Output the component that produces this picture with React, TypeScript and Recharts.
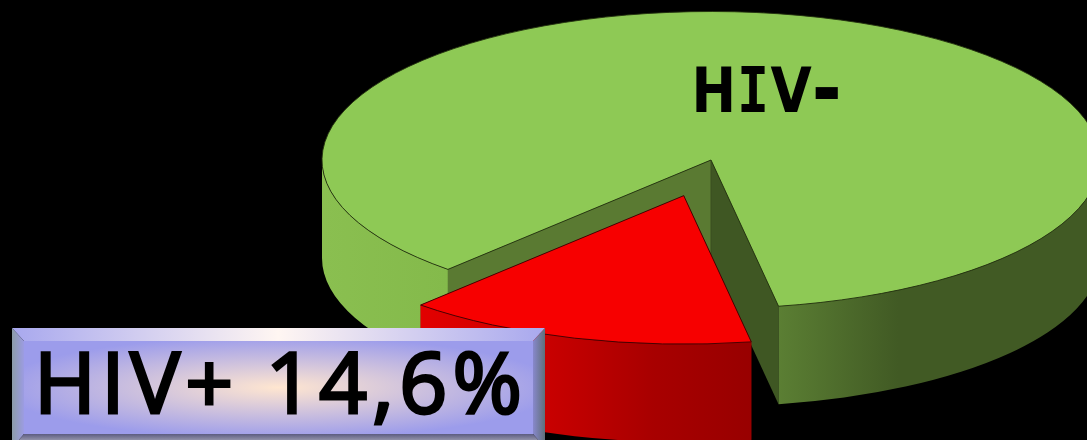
import { PieChart, Pie } from "recharts";

const categories = ["HIV-", "HIV+"];
const shares = [85.4, 14.6];
const topColors = ["#8ec955", "#f70000"];
const cutColors = [
  ["#3f5723", "#5a7a32"],
  ["#8a0000", "#8a0000"],
];
const pieData = categories.map((name, i) => ({ name, value: shares[i] }));

const WIDTH = 1087;
const HEIGHT = 440;
const TILT = 148.5 / 389; // vertical squash of the disc
const DEPTH = 98;
const EXPLODE = 0.25;

function point(cx: number, cy: number, r: number, deg: number) {
  const a = (deg * Math.PI) / 180;
  return { x: cx + r * Math.cos(a), y: cy - r * TILT * Math.sin(a) };
}

function arcPath(cx: number, cy: number, r: number, from: number, to: number, dy = 0, move = true) {
  const p0 = point(cx, cy, r, from);
  const p1 = point(cx, cy, r, to);
  const large = Math.abs(to - from) > 180 ? 1 : 0;
  const sweep = to > from ? 0 : 1;
  return `${move ? "M" : "L"}${p0.x},${p0.y + dy}A${r},${r * TILT} 0 ${large} ${sweep} ${p1.x},${p1.y + dy}`;
}

// the part of the rim that faces the viewer: sin(angle) < 0
function frontArcs(start: number, end: number) {
  const arcs: [number, number][] = [];
  for (let k = 0; k < 3; k++) {
    const lo = Math.max(start, 180 + k * 360);
    const hi = Math.min(end, 360 + k * 360);
    if (hi > lo) arcs.push([lo, hi]);
  }
  return arcs;
}

function Slice3D(props: any) {
  const { cx, cy, outerRadius: r, startAngle, endAngle, midAngle, index } = props;
  const from = Math.min(startAngle, endAngle);
  const to = Math.max(startAngle, endAngle);
  const exploded = index === 1;
  const off = exploded ? point(0, 0, r * EXPLODE, midAngle) : { x: 0, y: 0 };
  const x = cx + off.x;
  const y = cy + off.y;
  const a = point(x, y, r, from);
  const b = point(x, y, r, to);
  const top = `M${x},${y}L${a.x},${a.y}${arcPath(x, y, r, from, to, 0, false)}Z`;
  const edge = index === 0 ? "#22300f" : "#3a0000";
  return (
    <g>
      <path d={`M${x},${y}L${a.x},${a.y}L${a.x},${a.y + DEPTH}L${x},${y + DEPTH}Z`} fill={cutColors[index][0]} />
      <path d={`M${x},${y}L${b.x},${b.y}L${b.x},${b.y + DEPTH}L${x},${y + DEPTH}Z`} fill={cutColors[index][1]} />
      <line x1={x} y1={y} x2={x} y2={y + DEPTH} stroke="#3a4f20" strokeWidth={1} />
      {frontArcs(from, to).map(([lo, hi]) => {
        const pl = point(x, y, r, lo);
        return (
          <path
            key={lo}
            d={`${arcPath(x, y, r, lo, hi)}L${point(x, y, r, hi).x},${point(x, y, r, hi).y + DEPTH}${arcPath(x, y, r, hi, lo, DEPTH, false)}L${pl.x},${pl.y}Z`}
            fill={`url(#wall${index})`}
          />
        );
      })}
      <path d={top} fill={topColors[index]} stroke={edge} strokeWidth={0.9} />
    </g>
  );
}

function SliceLabel(props: any) {
  if (props.index === 0) {
    // wide bold face with a slab I, built up glyph by glyph
    return (
      <text
        transform="translate(0,112) scale(0.86,1)"
        fontFamily="'DejaVu Sans'"
        fontWeight="bold"
        fontSize={62}
        fill="#000"
      >
        <tspan x={804}>H</tspan>
        <tspan x={857} fontFamily="'DejaVu Sans Mono'">I</tspan>
        <tspan x={896}>V</tspan>
        <tspan x={944} dy={5} fontSize={84}>-</tspan>
      </text>
    );
  }
  const [x0, x1, y0, y1] = [12, 545, 328, 448];
  const [ix0, ix1, iy0, iy1] = [24, 533, 341, 434];
  return (
    <g>
      <polygon points={`${x0},${y0} ${x1},${y0} ${ix1},${iy0} ${ix0},${iy0}`} fill="url(#bevelTop)" />
      <polygon points={`${x0},${y0} ${ix0},${iy0} ${ix0},${iy1} ${x0},${y1}`} fill="url(#bevelLeft)" />
      <polygon points={`${x1},${y0} ${ix1},${iy0} ${ix1},${iy1} ${x1},${y1}`} fill="url(#bevelRight)" />
      <polygon points={`${x0},${y1} ${ix0},${iy1} ${ix1},${iy1} ${x1},${y1}`} fill="url(#bevelBottom)" />
      <rect x={ix0} y={iy0} width={ix1 - ix0} height={iy1 - iy0} fill="url(#boxFace)" />
      <text
        x={34}
        y={412.5}
        fontFamily="'Open Sans'"
        fontSize={84}
        textLength={488}
        lengthAdjust="spacing"
        fill="#000"
        stroke="#000"
        strokeWidth={3}
      >
        {`${categories[1]} ${String(shares[1]).replace(".", ",")}%`}
      </text>
    </g>
  );
}

export default function App() {
  return (
    <div style={{ position: "absolute", left: 0, top: 0, width: WIDTH, height: HEIGHT, background: "#000", overflow: "hidden" }}>
      <PieChart width={WIDTH} height={HEIGHT} margin={{ top: 0, right: 0, bottom: 0, left: 0 }}>
        <defs>
          <linearGradient id="wall0" gradientUnits="userSpaceOnUse" x1={323} x2={1100} y1={0} y2={0}>
            <stop offset={0} stopColor="#8abf50" />
            <stop offset={0.16} stopColor="#84ba4b" />
            <stop offset={0.58} stopColor="#5c8034" />
            <stop offset={0.74} stopColor="#415a24" />
            <stop offset={1} stopColor="#415a24" />
          </linearGradient>
          <linearGradient id="wall1" gradientUnits="userSpaceOnUse" x1={420} x2={752} y1={0} y2={0}>
            <stop offset={0} stopColor="#e20000" />
            <stop offset={0.35} stopColor="#cc0000" />
            <stop offset={0.7} stopColor="#a80000" />
            <stop offset={1} stopColor="#980000" />
          </linearGradient>
          <radialGradient id="boxFace" cx="0.5" cy="0.5" r="0.55">
            <stop offset={0} stopColor="#ffe6d0" />
            <stop offset={1} stopColor="#9c9ceb" />
          </radialGradient>
          <linearGradient id="bevelTop" x1="0" x2="1" y1="0" y2="0">
            <stop offset={0} stopColor="#a8a8ee" />
            <stop offset={0.5} stopColor="#fff6f2" />
            <stop offset={1} stopColor="#a8a8ee" />
          </linearGradient>
          <linearGradient id="bevelLeft" x1="0" x2="1" y1="0" y2="0">
            <stop offset={0} stopColor="#8c9ca8" />
            <stop offset={1} stopColor="#9c9ce2" />
          </linearGradient>
          <linearGradient id="bevelRight" x1="0" x2="1" y1="0" y2="0">
            <stop offset={0} stopColor="#8888cc" />
            <stop offset={1} stopColor="#5f6f78" />
          </linearGradient>
          <linearGradient id="bevelBottom" x1="0" x2="0" y1="0" y2="1">
            <stop offset={0} stopColor="#5c5c80" />
            <stop offset={0.5} stopColor="#9a9ab0" />
            <stop offset={1} stopColor="#c8c8d8" />
          </linearGradient>
        </defs>
        <Pie
          data={pieData}
          dataKey="value"
          nameKey="name"
          cx={711}
          cy={160}
          innerRadius={0}
          outerRadius={389}
          startAngle={280}
          endAngle={640}
          stroke="none"
          shape={Slice3D}
          label={SliceLabel}
          labelLine={false}
          isAnimationActive={false}
        />
      </PieChart>
    </div>
  );
}
